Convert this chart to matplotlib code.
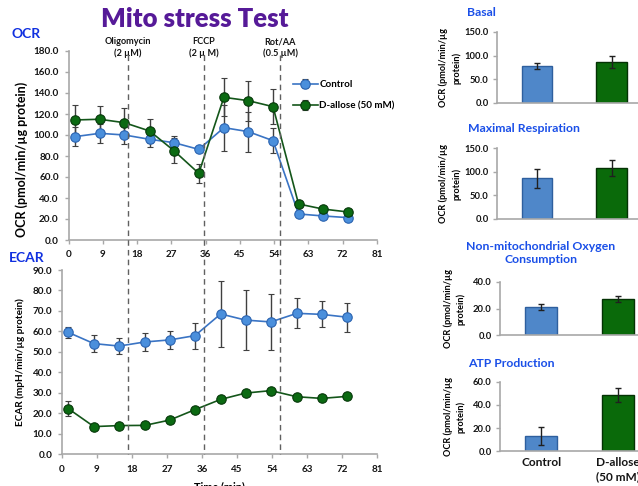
import matplotlib
matplotlib.use("Agg")
import matplotlib.pyplot as plt
from matplotlib.lines import Line2D
from matplotlib.transforms import blended_transform_factory
import numpy as np

plt.rcParams['font.family'] = ['Lato', 'DejaVu Sans']
plt.rcParams['font.weight'] = 'bold'

W, H = 638, 486

# ---------------- data ----------------
time_min = [1.6, 8.2, 14.7, 21.3, 27.7, 34.2, 40.8, 47.2, 53.7, 60.4, 66.8, 73.4]

ocr_control = [98.4, 101.6, 100.0, 95.9, 92.7, 86.3, 107.0, 103.2, 94.6, 24.8, 22.9, 21.3]
ocr_control_err = [9, 9, 8.6, 7, 6, 1.5, 22, 19, 12, 1.5, 1.5, 1.5]
ocr_allose = [114.3, 115.0, 111.7, 103.8, 85.0, 63.5, 135.9, 132.7, 127.0, 34.3, 29.5, 26.7]
ocr_allose_err = [14, 13, 14, 11, 12, 9, 18, 19, 17, 2, 2, 2]

ecar_control = [59.5, 54.0, 52.8, 54.8, 55.8, 57.9, 68.5, 65.5, 64.6, 68.8, 68.3, 66.9]
ecar_control_err = [2.8, 4.0, 4.0, 4.3, 4.4, 6.3, 16.3, 14.7, 13.5, 7.3, 6.4, 7.0]
ecar_allose = [22.2, 13.4, 13.9, 14.0, 16.6, 21.7, 26.7, 29.8, 31.0, 28.0, 27.2, 28.2]
ecar_allose_err = [3.6, 0.6, 0.6, 0.6, 0.6, 0.6, 0.6, 0.6, 0.6, 0.6, 0.6, 0.6]

injections = ["Oligomycin\n(2 \u00b5M)", "FCCP\n(2 \u00b5 M)", "Rot/AA\n(0.5 \u00b5M)"]
injection_times = [15.5, 35.6, 55.6]

groups = ["Control", "D-allose\n(50 mM)"]
bar_titles = ["Basal", "Maximal Respiration", "Non-mitochondrial Oxygen\nConsumption", "ATP Production"]
bar_values = [[78.2, 86.0], [86.3, 108.0], [21.1, 27.0], [13.2, 48.5]]
bar_errors = [[6.5, 12.5], [20.0, 16.5], [2.0, 2.0], [8.0, 6.0]]
bar_ylims = [150, 150, 40, 60]
bar_ysteps = [50, 50, 20, 20]

# ---------------- styles ----------------
c_line = '#3a74c4'; c_face = '#4a8fdc'; c_edge = '#2b63b0'
g_line = '#14561a'; g_face = '#0b6a12'; g_edge = '#06380a'
spine_c = '#a8a8a8'
err_c = '#404040'
blue_txt = '#1030e0'


def px(l, t, r, b):
    return [l / W, 1 - b / H, (r - l) / W, (b - t) / H]


fig = plt.figure(figsize=(W / 100, H / 100), dpi=100)


def style_axes(ax, fs=7.1):
    for s in ['top', 'right']:
        ax.spines[s].set_visible(False)
    for s in ['left', 'bottom']:
        ax.spines[s].set_color(spine_c)
        ax.spines[s].set_linewidth(1.2)
    ax.tick_params(axis='both', direction='out', length=3, width=1,
                   color=spine_c, labelsize=fs, labelcolor='#141414')


def plot_series(ax, y, e, lc, fc, ec, label):
    ax.errorbar(time_min, y, yerr=e, color=lc, lw=1.2, marker='o', ms=6.8,
                mfc=fc, mec=ec, mew=0.8, ecolor=err_c, elinewidth=1,
                capsize=2, capthick=1, label=label, zorder=3)


# ---------------- OCR ----------------
ax1 = fig.add_axes(px(68.5, 51, 377, 240))
style_axes(ax1)
plot_series(ax1, ocr_control, ocr_control_err, c_line, c_face, c_edge, 'Control')
plot_series(ax1, ocr_allose, ocr_allose_err, g_line, g_face, g_edge, 'D-allose (50 mM)')
ax1.set_xlim(0, 81)
ax1.set_ylim(0, 180)
ax1.set_xticks(np.arange(0, 82, 9))
ax1.set_yticks(np.arange(0, 181, 20))
ax1.set_yticklabels([f"{v:.1f}" for v in np.arange(0, 181, 20)])
ax1.tick_params(axis='y', pad=4)
ax1.tick_params(axis='x', pad=4)
ax1.set_ylabel("OCR (pmol/min/\u00b5g protein)", fontsize=9.0, fontweight='bold')
ax1.yaxis.set_label_coords((28.5 - 68.5) / (377 - 68.5), 0.425)

h, l = ax1.get_legend_handles_labels()
leg = ax1.legend(h, l, loc='upper left', bbox_to_anchor=(293 / W, 1 - 80 / H),
                 bbox_transform=fig.transFigure, frameon=False, fontsize=7.1,
                 handlelength=2.5, handletextpad=0.15, labelspacing=1.25,
                 borderaxespad=0, borderpad=0)
for t in leg.get_texts():
    t.set_fontweight('bold')

# ---------------- ECAR ----------------
ax2 = fig.add_axes(px(62, 270, 377, 454))
style_axes(ax2)
plot_series(ax2, ecar_control, ecar_control_err, c_line, c_face, c_edge, 'Control')
plot_series(ax2, ecar_allose, ecar_allose_err, g_line, g_face, g_edge, 'D-allose (50 mM)')
ax2.set_xlim(0, 81)
ax2.set_ylim(0, 90)
ax2.set_xticks(np.arange(0, 82, 9))
ax2.set_yticks(np.arange(0, 91, 10))
ax2.set_yticklabels([f"{v:.1f}" for v in np.arange(0, 91, 10)])
ax2.tick_params(axis='y', pad=4)
ax2.tick_params(axis='x', pad=5)
ax2.set_ylabel("ECAR (mpH/min/\u00b5g protein)", fontsize=7.2, fontweight='bold')
ax2.yaxis.set_label_coords((25.5 - 62) / (377 - 62), 0.5)
ax2.set_xlabel("Time (min)", fontsize=7.8, fontweight='bold', labelpad=5)

# injection lines spanning both panels
tr = blended_transform_factory(ax1.transData, fig.transFigure)
for tt, lab in zip(injection_times, injections):
    fig.add_artist(Line2D([tt, tt], [1 - 55 / H, 1 - 454 / H], transform=tr,
                          color='#606060', lw=1, ls=(0, (4, 3)), zorder=1))
    ax1.text(tt, 1 - 47.5 / H, lab, transform=tr, ha='center', va='center',
             fontsize=6.6, fontweight='bold', linespacing=1.3, color='#141414')

# titles
fig.text(195 / W, 1 - 19 / H, "Mito stress Test", ha='center', va='center',
         fontsize=18.5, fontweight='heavy', color='#561a98')
fig.text(11 / W, 1 - 34 / H, "OCR", ha='left', va='center', fontsize=10,
         fontweight='bold', color=blue_txt)
fig.text(9 / W, 1 - 258 / H, "ECAR", ha='left', va='center', fontsize=10,
         fontweight='bold', color=blue_txt)

# ---------------- bar panels ----------------
bar_boxes = [(497, 32, 103), (497, 148, 219), (500, 281.7, 335.3), (500, 381.7, 451.3)]
unit_px = [74.6, 74.6, 76.8, 76.8]
title_pos = [(481, 12), (524, 128), (541, 253), (511, 363)]
ylab_x = [461, 461, 466, 466]
x_lo, x_hi = -0.536, 1.6
bar_face = ['#4f87c9', '#0a6a0a']
bar_edge = ['#2e5f9e', '#043204']

for i in range(4):
    l, t, b = bar_boxes[i]
    r = l + (x_hi - x_lo) * unit_px[i]
    ax = fig.add_axes(px(l, t, r, b))
    style_axes(ax, fs=6.8)
    xs = np.arange(len(groups))
    ax.bar(xs, bar_values[i], width=0.41, color=bar_face, edgecolor=bar_edge,
           linewidth=1.0, yerr=bar_errors[i], ecolor='#202020',
           error_kw=dict(elinewidth=1, capsize=2, capthick=1), zorder=2)
    ax.set_xlim(x_lo, x_hi)
    ax.set_ylim(0, bar_ylims[i])
    yt = np.arange(0, bar_ylims[i] + 0.1, bar_ysteps[i])
    ax.set_yticks(yt)
    ax.set_yticklabels([f"{v:.1f}" for v in yt])
    ax.tick_params(axis='y', pad=3)
    if i == 3:
        ax.set_xticks(xs)
        ax.set_xticklabels(groups, fontsize=8.6, fontweight='bold', linespacing=1.35)
        ax.tick_params(axis='x', length=0, pad=4)
    else:
        ax.set_xticks([])
    ax.set_ylabel("OCR (pmol/min/\u00b5g\nprotein)", fontsize=6.6, fontweight='bold',
                  linespacing=1.45)
    ax.yaxis.set_label_coords((ylab_x[i] - l) / (r - l), 0.5)
    fig.text(title_pos[i][0] / W, 1 - title_pos[i][1] / H, bar_titles[i],
             ha='center', va='center', fontsize=8.8, fontweight='bold',
             color='#1a4fe8', linespacing=1.3)

fig.savefig("out.png", dpi=100)
